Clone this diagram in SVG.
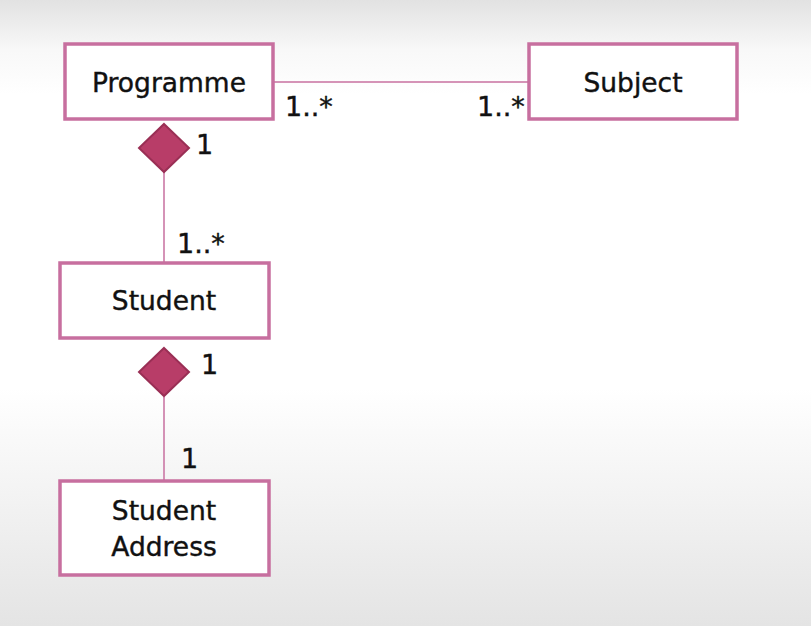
<svg xmlns="http://www.w3.org/2000/svg" width="811" height="626" viewBox="0 0 811 626">
<defs>
<linearGradient id="bg" x1="0" y1="0" x2="0" y2="1">
<stop offset="0" stop-color="#e2e2e2"/>
<stop offset="0.08" stop-color="#f8f8f8"/>
<stop offset="0.15" stop-color="#ffffff"/>
<stop offset="0.62" stop-color="#ffffff"/>
<stop offset="1" stop-color="#e4e4e4"/>
</linearGradient>
<style>
.box{fill:#ffffff;stroke:#c76f9f;stroke-width:3.5}
.lbl{font-family:"DejaVu Sans",Verdana,sans-serif;font-size:26.5px;fill:#111111;stroke:#111111;stroke-width:0.4;text-anchor:middle}
.mult{font-family:"DejaVu Sans",Verdana,sans-serif;font-size:27px;fill:#111111;stroke:#111111;stroke-width:0.4}
.line{stroke:#c76f9f;stroke-width:1.5;fill:none}
.dia{fill:#b83d68;stroke:#9a2f55;stroke-width:2}
</style>
</defs>
<rect x="0" y="0" width="811" height="626" fill="url(#bg)"/>
<g id="connectors">
<line class="line" x1="274" y1="82" x2="528" y2="82"/>
<line class="line" x1="164" y1="172" x2="164" y2="262"/>
<line class="line" x1="164" y1="397" x2="164" y2="480"/>
<path class="dia" d="M164,124 L189,148 L164,172 L139,148 Z"/>
<path class="dia" d="M164,348 L189,372 L164,396 L139,372 Z"/>
<text class="mult" x="285" y="116">1..*</text>
<text class="mult" x="477" y="116">1..*</text>
<text class="mult" x="196" y="154">1</text>
<text class="mult" x="177" y="253">1..*</text>
<text class="mult" x="201" y="374">1</text>
<text class="mult" x="181" y="468">1</text>
</g>
<g id="programme">
<rect class="box" x="65" y="44" width="208" height="75"/>
<text class="lbl" x="169" y="92">Programme</text>
</g>
<g id="subject">
<rect class="box" x="529" y="44" width="208" height="75"/>
<text class="lbl" x="633" y="92">Subject</text>
</g>
<g id="student">
<rect class="box" x="60" y="263" width="209" height="75"/>
<text class="lbl" x="164" y="310">Student</text>
</g>
<g id="student-address">
<rect class="box" x="60" y="481" width="209" height="94"/>
<text class="lbl" x="164" y="520">Student</text>
<text class="lbl" x="164" y="556">Address</text>
</g>
</svg>
